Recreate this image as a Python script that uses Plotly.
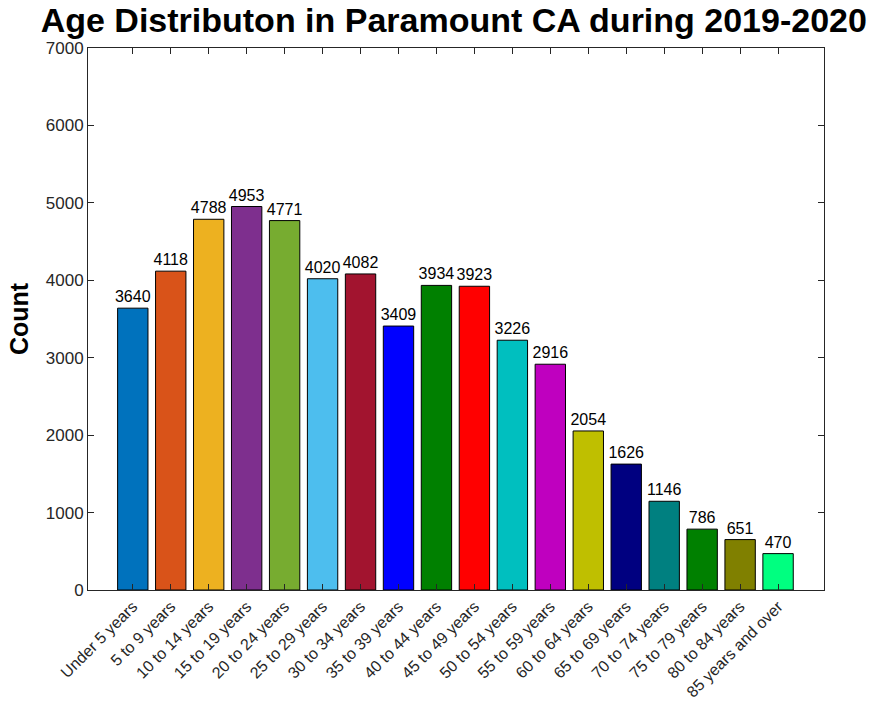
import plotly.graph_objects as go

categories = ["Under 5 years", "5 to 9 years", "10 to 14 years", "15 to 19 years",
              "20 to 24 years", "25 to 29 years", "30 to 34 years", "35 to 39 years",
              "40 to 44 years", "45 to 49 years", "50 to 54 years", "55 to 59 years",
              "60 to 64 years", "65 to 69 years", "70 to 74 years", "75 to 79 years",
              "80 to 84 years", "85 years and over"]
counts = [3640, 4118, 4788, 4953, 4771, 4020, 4082, 3409, 3934, 3923,
          3226, 2916, 2054, 1626, 1146, 786, 651, 470]
bar_colors = ["#0072BD", "#D95319", "#EDB120", "#7E2F8E", "#77AC30", "#4DBEEE",
              "#A2142F", "#0000FF", "#008000", "#FF0000", "#00BFBF", "#BF00BF",
              "#BFBF00", "#000080", "#008080", "#008000", "#808000", "#00FF80"]
y_ticks = [0, 1000, 2000, 3000, 4000, 5000, 6000, 7000]

positions = list(range(len(categories)))

fig = go.Figure()
fig.add_trace(go.Bar(
    x=positions, y=counts,
    marker=dict(color=bar_colors, line=dict(color="#000000", width=1)),
    width=0.8,
    text=[str(v) for v in counts],
    textposition="outside",
    constraintext="none",
    textfont=dict(family="Liberation Sans, Arial", size=16, color="#000000"),
    cliponaxis=False,
    hoverinfo="skip",
))

fig.update_layout(
    width=870, height=705,
    margin=dict(l=88, r=46, t=48, b=115, autoexpand=False),
    paper_bgcolor="white", plot_bgcolor="white",
    showlegend=False,
    bargap=0.2,
    title=dict(text="<b>Age Distributon in Paramount CA during 2019-2020</b>",
               font=dict(family="Liberation Sans, Arial", size=34, color="#000000"),
               x=0.497, xanchor="center", xref="paper",
               y=0.988, yanchor="top", yref="container"),
    font=dict(family="Liberation Sans, Arial", color="#262626"),
)
fig.update_xaxes(
    range=[-1.18, 18.21],
    tickvals=positions, ticktext=categories, tickangle=-45,
    tickfont=dict(size=16, color="#262626"),
    showline=True, linecolor="#262626", linewidth=1, mirror="ticks",
    ticks="inside", ticklen=6, tickcolor="#262626",
    showgrid=False, zeroline=False, automargin=False,
)
fig.update_yaxes(
    range=[0, 7000],
    tickvals=y_ticks, ticktext=[str(v) for v in y_ticks],
    tickfont=dict(size=17, color="#262626"),
    title=dict(text="<b>Count</b>", font=dict(size=25, color="#000000"), standoff=10),
    showline=True, linecolor="#262626", linewidth=1, mirror="ticks",
    ticks="inside", ticklen=6, tickcolor="#262626",
    showgrid=False, zeroline=False, automargin=False,
)

fig.write_html("out.html", config={"displayModeBar": False},
               post_script="document.body.style.margin='0';")
